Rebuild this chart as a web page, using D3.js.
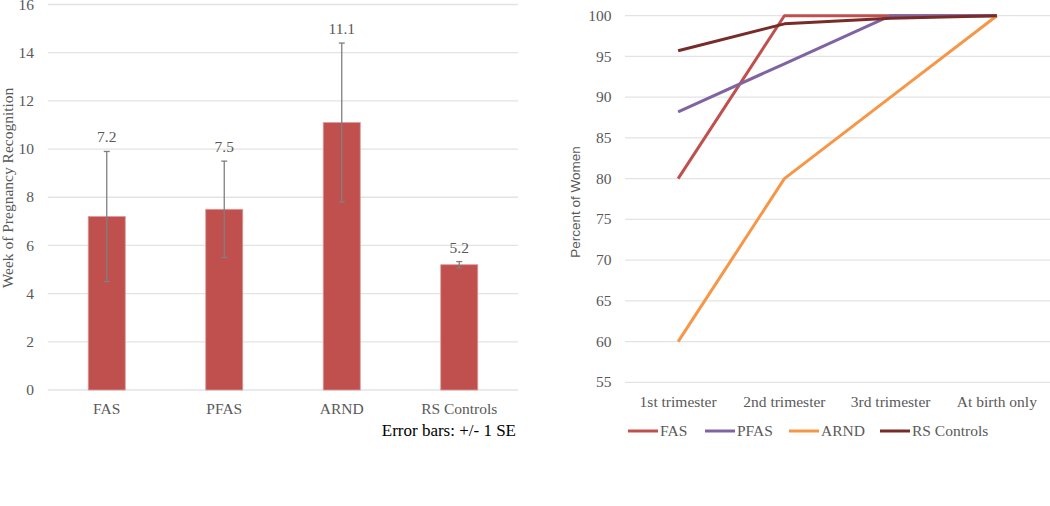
<!DOCTYPE html>
<html><head><meta charset="utf-8">
<script src="https://cdn.jsdelivr.net/npm/d3@7/dist/d3.min.js"></script>
<style>body{margin:0;background:#fff}svg{display:block}</style>
</head><body>
<svg id="c" width="1050" height="506"></svg>
<script>
// Left chart data
const barCategories = ["FAS", "PFAS", "ARND", "RS Controls"];
const barValues = [7.2, 7.5, 11.1, 5.2];
const barErrors = [2.7, 2.0, 3.3, 0.13];
const barTicks = [0, 2, 4, 6, 8, 10, 12, 14, 16];

// Right chart data
const stages = ["1st trimester", "2nd trimester", "3rd trimester", "At birth only"];
const seriesNames = ["FAS", "PFAS", "ARND", "RS Controls"];
const fasValues = [80, 100, 100, 100];
const pfasValues = [88.2, 94.1, 100, 100];
const arndValues = [60, 80, 90, 100];
const rsValues = [95.7, 99.0, 99.7, 100];
const lineTicks = [55, 60, 65, 70, 75, 80, 85, 90, 95, 100];
const seriesColors = ["#C0504D", "#8064A2", "#F79646", "#772C2A"];

const svg = d3.select("#c");
const serif = "'Liberation Serif','Times New Roman',serif";
const gray = "#595959";
const gridColor = "#e3e3e3";

// ---------- Left bar chart ----------
const L = {x0: 48, x1: 518, yTop: 4.5, yBot: 390};
const xb = d3.scaleBand().domain(barCategories).range([L.x0, L.x1]).paddingInner(0.685).paddingOuter(0.3425);
const yb = d3.scaleLinear().domain([0, 16]).range([L.yBot, L.yTop]);
const gL = svg.append("g");

gL.append("g").selectAll("line").data(barTicks).join("line")
  .attr("x1", L.x0).attr("x2", L.x1)
  .attr("y1", d => yb(d)).attr("y2", d => yb(d))
  .attr("stroke", gridColor).attr("stroke-width", 1.3);

gL.append("g").selectAll("text").data(barTicks).join("text")
  .attr("x", 34).attr("y", d => yb(d)).attr("dy", "0.33em")
  .attr("text-anchor", "end").attr("font-family", serif).attr("font-size", 15.5)
  .attr("fill", gray).text(d => d);

gL.append("g").selectAll("rect").data(barCategories).join("rect")
  .attr("x", d => xb(d)).attr("width", xb.bandwidth())
  .attr("y", (d, i) => yb(barValues[i])).attr("height", (d, i) => yb(0) - yb(barValues[i]))
  .attr("fill", "#C0504D").attr("stroke", "#dc9a98").attr("stroke-width", 0.8);

const eb = gL.append("g").attr("stroke", "#7f7f7f").attr("stroke-width", 1.3);
barCategories.forEach((c, i) => {
  const cx = xb(c) + xb.bandwidth() / 2;
  const t = yb(barValues[i] + barErrors[i]), b = yb(barValues[i] - barErrors[i]);
  eb.append("line").attr("x1", cx).attr("x2", cx).attr("y1", t).attr("y2", b);
  eb.append("line").attr("x1", cx - 3).attr("x2", cx + 3).attr("y1", t).attr("y2", t);
  eb.append("line").attr("x1", cx - 3).attr("x2", cx + 3).attr("y1", b).attr("y2", b);
});

gL.append("g").selectAll("text").data(barCategories).join("text")
  .attr("x", d => xb(d) + xb.bandwidth() / 2)
  .attr("y", (d, i) => yb(barValues[i] + barErrors[i]) - 9)
  .attr("text-anchor", "middle").attr("font-family", serif).attr("font-size", 15.5)
  .attr("fill", gray).text((d, i) => barValues[i].toFixed(1));

gL.append("g").selectAll("text").data(barCategories).join("text")
  .attr("x", d => xb(d) + xb.bandwidth() / 2).attr("y", 414)
  .attr("text-anchor", "middle").attr("font-family", serif).attr("font-size", 15.5)
  .attr("fill", gray).text(d => d);

gL.append("text").attr("x", 516).attr("y", 436).attr("text-anchor", "end")
  .attr("font-family", serif).attr("font-size", 17).attr("fill", "#000")
  .text("Error bars: +/- 1 SE");

gL.append("text").attr("transform", "translate(13,188) rotate(-90)")
  .attr("text-anchor", "middle").attr("font-family", serif).attr("font-size", 15.5)
  .attr("fill", gray).text("Week of Pregnancy Recognition");

// ---------- Right line chart ----------
const R = {x0: 625, x1: 1050, yTop: 15.7, yBot: 382.3};
const xl = d3.scalePoint().domain(stages).range([R.x0, R.x1]).padding(0.5);
const yl = d3.scaleLinear().domain([55, 100]).range([R.yBot, R.yTop]);
const gR = svg.append("g");

gR.append("g").selectAll("line").data(lineTicks).join("line")
  .attr("x1", R.x0).attr("x2", R.x1)
  .attr("y1", d => yl(d)).attr("y2", d => yl(d))
  .attr("stroke", gridColor).attr("stroke-width", 1.3);

gR.append("g").selectAll("text").data(lineTicks).join("text")
  .attr("x", 611.5).attr("y", d => yl(d)).attr("dy", "0.33em")
  .attr("text-anchor", "end").attr("font-family", serif).attr("font-size", 15.5)
  .attr("fill", gray).text(d => d);

gR.append("g").selectAll("text").data(stages).join("text")
  .attr("x", d => xl(d)).attr("y", 407)
  .attr("text-anchor", "middle").attr("font-family", serif).attr("font-size", 15.5)
  .attr("fill", gray).text(d => d);

const allSeries = [fasValues, pfasValues, arndValues, rsValues];
const line = d3.line().x((d, i) => xl(stages[i])).y(d => yl(d));
gR.append("g").selectAll("path").data(allSeries).join("path")
  .attr("d", d => line(d)).attr("fill", "none")
  .attr("stroke", (d, i) => seriesColors[i]).attr("stroke-width", 3)
  .attr("stroke-linejoin", "round");

gR.append("text").attr("transform", "translate(580,202) rotate(-90)")
  .attr("text-anchor", "middle").attr("font-family", "'Liberation Sans',Arial,sans-serif")
  .attr("font-size", 13.5).attr("fill", gray).text("Percent of Women");

const legendX = [628, 705, 789, 880];
const lg = gR.append("g");
seriesNames.forEach((n, i) => {
  lg.append("line").attr("x1", legendX[i]).attr("x2", legendX[i] + 30)
    .attr("y1", 431).attr("y2", 431).attr("stroke", seriesColors[i]).attr("stroke-width", 3);
  lg.append("text").attr("x", legendX[i] + 32).attr("y", 431).attr("dy", "0.33em")
    .attr("font-family", serif).attr("font-size", 15.5).attr("fill", gray).text(n);
});
</script>
</body></html>
